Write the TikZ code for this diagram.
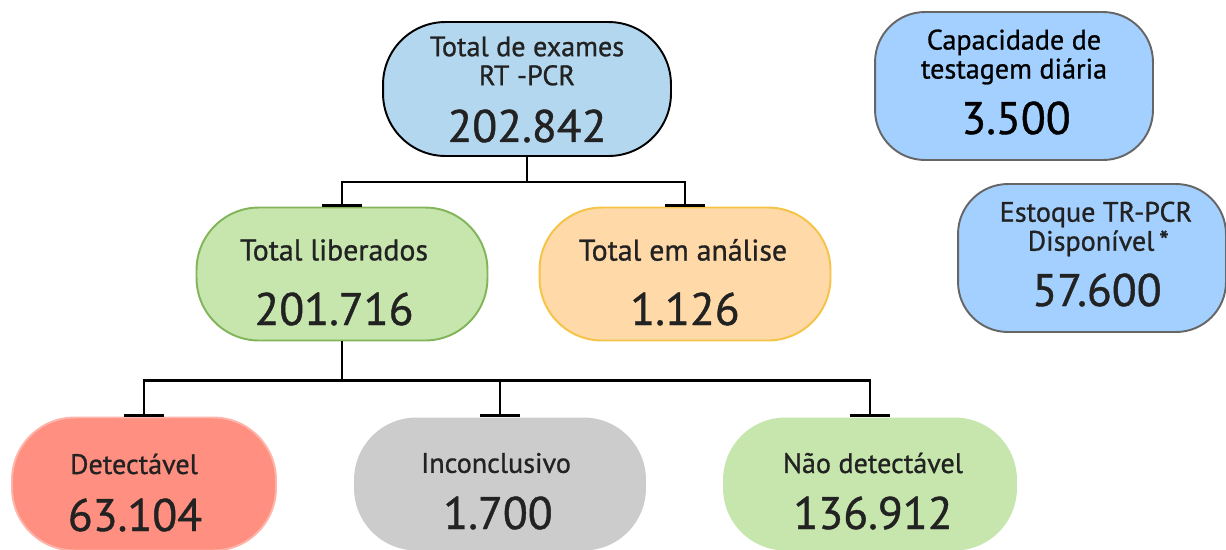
\documentclass[tikz,border=0pt]{standalone}
\usepackage{fontspec}
\setmainfont{PT Sans}[BoldFont=PT Sans,BoldFeatures={FakeBold=0.9}]
\usetikzlibrary{arrows.meta}

\definecolor{topblue}{RGB}{180,215,240}
\definecolor{sideblue}{RGB}{163,208,255}
\definecolor{boxgreen}{RGB}{198,230,173}
\definecolor{edgegreen}{RGB}{130,180,90}
\definecolor{boxorange}{RGB}{255,217,168}
\definecolor{edgeorange}{RGB}{245,195,70}
\definecolor{boxred}{RGB}{255,143,128}
\definecolor{edgered}{RGB}{255,180,170}
\definecolor{boxgray}{RGB}{204,204,204}
\definecolor{txt}{RGB}{34,34,34}

\tikzset{
  pill/.style={rectangle,rounded corners=1.25cm,line width=1.1pt,minimum width=#1},
  pill/.default=5.8cm,
  lbl/.style={align=center,text=txt,font=\fontsize{16}{16.5}\selectfont\bfseries,inner sep=0pt},
  num/.style={text=txt,font=\fontsize{26}{30}\selectfont\bfseries,inner sep=0pt},
  tree/.style={line width=1.4pt,-{Bar[width=23pt,line width=1.4pt]}}
}

\begin{document}
\begin{tikzpicture}[x=0.02cm,y=-0.02cm]
\clip (0,0) rectangle (1226,549);

% main tree
\node [pill=5.76cm,draw=black,fill=topblue,minimum height=2.68cm] (total) at (527,89) {};
\node [lbl] (totalt) at (527,61) {Total de exames\\RT -PCR};
\node [num] (totaln) at (527,126) {202.842};

\node [pill=5.82cm,draw=edgegreen,fill=boxgreen,minimum height=2.66cm] (liberados) at (342,274) {};
\node [lbl,font=\fontsize{17}{18}\selectfont\bfseries] (liberadost) at (334,250) {Total liberados};
\node [num] (liberadosn) at (334,309) {201.716};

\node [pill=5.82cm,draw=edgeorange,fill=boxorange,minimum height=2.66cm] (analise) at (685,274) {};
\node [lbl,font=\fontsize{17}{18}\selectfont\bfseries] (analiset) at (683,250) {Total em análise};
\node [num] (analisen) at (685,309) {1.126};

\node [pill=5.28cm,draw=edgered,fill=boxred,minimum height=2.66cm] (detect) at (144,484) {};
\node [lbl] (detectt) at (134,464) {Detectável};
\node [num] (detectn) at (135,515) {63.104};

\node [pill=5.84cm,fill=boxgray,minimum height=2.66cm] (inconc) at (500,484) {};
\node [lbl] (inconct) at (496,463) {Inconclusivo};
\node [num] (inconcn) at (498,513) {1.700};

\node [pill=5.88cm,fill=boxgreen,minimum height=2.66cm] (naodet) at (870,484) {};
\node [lbl] (naodett) at (873,463) {Não detectável};
\node [num] (naodetn) at (873,513) {136.912};

% side boxes
\node [pill=5.56cm,draw=black!60,fill=sideblue,minimum height=2.96cm,rounded corners=1cm] (capac) at (1014,86) {};
\node [lbl,text=black] (capact) at (1014,57) {Capacidade de\\testagem diária};
\node [num,text=black] (capacn) at (1016,118) {3.500};

\node [pill=5.36cm,draw=black!60,fill=sideblue,minimum height=2.96cm,rounded corners=1cm] (estoque) at (1092,258) {};
\node [lbl] (estoquet) at (1096,229) {Estoque TR-PCR\\\,Disponível\,*};
\node [num] (estoquen) at (1097,290) {57.600};

% connectors
\draw [tree] (total.south) |- ++(0,25) -| (liberados.north);
\draw [tree] (total.south) |- ++(0,25) -| (analise.north);
\draw [tree] (liberados.south) |- ++(0,39) -| (detect.north);
\draw [tree] (liberados.south) |- ++(0,39) -| (inconc.north);
\draw [tree] (liberados.south) |- ++(0,39) -| (naodet.north);
\end{tikzpicture}
\end{document}
